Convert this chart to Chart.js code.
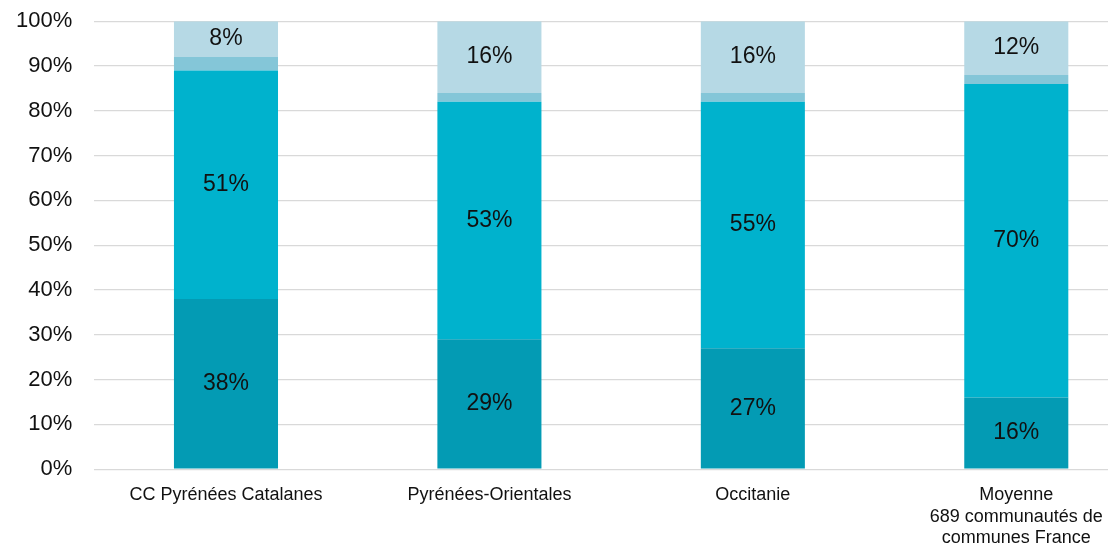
<!DOCTYPE html>
<html>
<head>
<meta charset="utf-8">
<script src="https://cdn.jsdelivr.net/npm/chart.js@4/dist/chart.umd.min.js"></script>
<style>
  html, body { margin: 0; padding: 0; background: #fff; overflow: hidden; }
  #wrap { width: 1150px; height: 557px; margin-top: -14px; position: relative; }
</style>
</head>
<body>
<div id="wrap"><canvas id="chart"></canvas></div>
<script>
// --- Données ---
const categories = [
    'CC Pyrénées Catalanes',
    'Pyrénées-Orientales',
    'Occitanie',
    ['Moyenne', '689 communautés de', 'communes France']
];
const partBas = [38, 29, 27, 16];      // segment foncé
const partMilieu = [51, 53, 55, 70];   // segment turquoise
const partFine = [3, 2, 2, 2];         // fine bande intermédiaire
const partHaut = [8, 16, 16, 12];      // segment clair
const yTicks = [0, 10, 20, 30, 40, 50, 60, 70, 80, 90, 100];

const FONT = "'Liberation Sans', Arial, sans-serif";

// Plugin maison pour écrire les pourcentages au centre des barres
const etiquettes = {
    id: 'etiquettes',
    afterDatasetsDraw(chart) {
        const ctx = chart.ctx;
        ctx.save();
        ctx.font = '23px ' + FONT;
        ctx.fillStyle = '#111';
        ctx.textAlign = 'center';
        ctx.textBaseline = 'middle';
        chart.data.datasets.forEach((ds, i) => {
            if (!ds.showLabel) return;
            chart.getDatasetMeta(i).data.forEach((bar, j) => {
                const y = (bar.y + bar.base) / 2;
                ctx.fillText(Math.round(ds.data[j]) + '%', bar.x, y);
            });
        });
        ctx.restore();
    }
};

const serie = (data, color, showLabel) => ({
    data: data,
    backgroundColor: color,
    borderWidth: 0,
    barPercentage: 0.395,
    categoryPercentage: 1,
    showLabel: showLabel
});

new Chart(document.getElementById('chart'), {
    type: 'bar',
    data: {
        labels: categories,
        datasets: [
            serie(partBas, '#039bb4', true),
            serie(partMilieu, '#00b2cd', true),
            serie(partFine, '#84c6d8', false),
            serie(partHaut, '#b6d9e5', true)
        ]
    },
    options: {
        responsive: true,
        maintainAspectRatio: false,
        animation: false,
        layout: { padding: { top: 0, left: -6, right: 2, bottom: -13 } },
        plugins: {
            legend: { display: false },
            tooltip: { enabled: false }
        },
        scales: {
            x: {
                stacked: true,
                grid: { display: false },
                border: { display: false },
                ticks: {
                    color: '#111',
                    font: { family: FONT, size: 18, lineHeight: 1.2 },
                    padding: 7,
                    maxRotation: 0,
                    autoSkip: false
                }
            },
            y: {
                stacked: true,
                min: 0,
                max: 100,
                afterBuildTicks: (axis) => { axis.ticks = yTicks.map(v => ({ value: v })); },
                grid: { color: '#d9d9d9', lineWidth: 1.3, drawTicks: false },
                border: { display: false },
                ticks: {
                    color: '#111',
                    font: { family: FONT, size: 22 },
                    padding: 22,
                    callback: v => v + '%'
                }
            }
        }
    },
    plugins: [etiquettes]
});
</script>
</body>
</html>
